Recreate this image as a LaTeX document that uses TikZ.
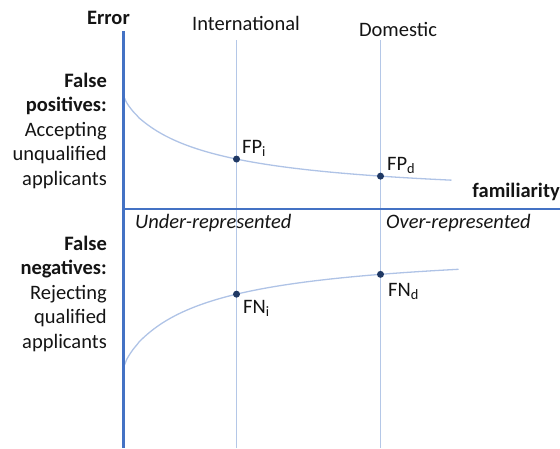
\documentclass[tikz,border=0pt]{standalone}
\usepackage{fontspec}
\setmainfont{Carlito}
\begin{document}
\begin{tikzpicture}[x=1pt,y=-1pt,
  axis/.style={draw={rgb,255:red,68;green,114;blue,196}, line width=2.6pt},
  guide/.style={draw={rgb,255:red,180;green,199;blue,231}, line width=1.1pt},
  crv/.style={draw={rgb,255:red,175;green,195;blue,230}, line width=1.3pt},
  dot/.style={circle, fill={rgb,255:red,31;green,56;blue,100}, inner sep=0pt, minimum size=7pt},
  txt/.style={font=\fontsize{20.5}{24.5}\selectfont, text={rgb,255:red,20;green,20;blue,20}, inner sep=0pt},
  btxt/.style={txt, font=\fontsize{20.5}{24.5}\selectfont\bfseries},
  itxt/.style={txt, font=\fontsize{20.5}{24.5}\selectfont\itshape}]
\useasboundingbox (0,0) rectangle (560,448);
% coordinates
\coordinate (ytop) at (123.5,31);
\coordinate (ybot) at (123.5,448);
\coordinate (xl) at (122.2,209);
\coordinate (xr) at (560,209);
\coordinate (itop) at (236.5,40);
\coordinate (ibot) at (236.5,448);
\coordinate (dtop) at (380.5,40);
\coordinate (dbot) at (380.5,448);
% guide lines
\draw[guide] (itop) -- (ibot);
\draw[guide] (dtop) -- (dbot);
% curves
\draw[crv] plot[domain=0.01:327, samples=160, smooth] ({124.5+\x}, {98 + 101.7*((\x/(\x+100))^0.8)});
\draw[crv] plot[domain=0.01:334, samples=160, smooth] ({124.5+\x}, {365 - 118*((\x/(\x+100))^0.8)});
% axes
\draw[axis] (ytop) -- (ybot);
\draw[axis] (xl) -- (xr);
% dots
\node[dot] (fpi) at ({236.5}, {98 + 101.7*((112/212)^0.8)}) {};
\node[dot] (fpd) at ({380.5}, {98 + 101.7*((256/356)^0.8)}) {};
\node[dot] (fni) at ({236.5}, {365 - 118*((112/212)^0.8)}) {};
\node[dot] (fnd) at ({380.5}, {365 - 118*((256/356)^0.8)}) {};
% labels
\node[btxt, anchor=base east] (err) at (130,24) {Error};
\node[txt, anchor=base] (intl) at (246,30) {International};
\node[txt, anchor=base] (dom) at (398,36) {Domestic};
\node[btxt, anchor=base east] (fam) at (560,197) {familiarity};
\node[itxt, anchor=base west] (under) at (135,228) {Under-represented};
\node[itxt, anchor=base west] (over) at (386,228) {Over-represented};
\node[txt, anchor=base west] (lfpi) at (242,153) {FP\textsubscript{i}};
\node[txt, anchor=base west] (lfpd) at (387,170) {FP\textsubscript{d}};
\node[txt, anchor=base west] (lfni) at (243,313) {FN\textsubscript{i}};
\node[txt, anchor=base west] (lfnd) at (388,296) {FN\textsubscript{d}};
% left texts
\node[btxt, anchor=base east] (fp1) at (107,87) {False};
\node[btxt, anchor=base east] (fp2) at (107,111.5) {positives:};
\node[txt, anchor=base east] (fp3) at (107,136) {Accepting};
\node[txt, anchor=base east] (fp4) at (107,160.5) {unqualified};
\node[txt, anchor=base east] (fp5) at (107,185) {applicants};
\node[btxt, anchor=base east] (fn1) at (107,250) {False};
\node[btxt, anchor=base east] (fn2) at (107,274.5) {negatives:};
\node[txt, anchor=base east] (fn3) at (107,299) {Rejecting};
\node[txt, anchor=base east] (fn4) at (107,323.5) {qualified};
\node[txt, anchor=base east] (fn5) at (107,348) {applicants};
\end{tikzpicture}
\end{document}
